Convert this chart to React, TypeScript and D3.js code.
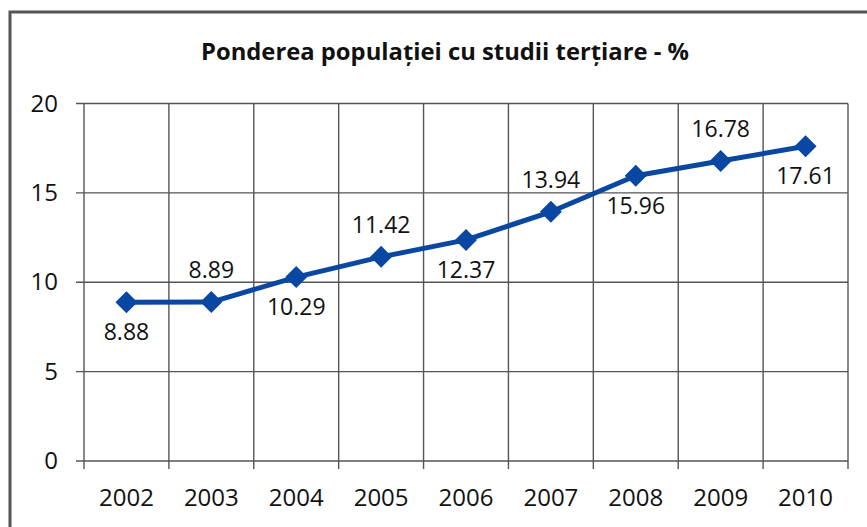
import React from "react";
import * as d3 from "d3";

const years = ["2002", "2003", "2004", "2005", "2006", "2007", "2008", "2009", "2010"];
const values = [8.88, 8.89, 10.29, 11.42, 12.37, 13.94, 15.96, 16.78, 17.61];
const labelAbove = [false, true, false, true, false, true, false, true, false];
const yTicks = [0, 5, 10, 15, 20];
const title = "Ponderea populației cu studii terțiare - %";

export default function App() {
  const W = 867, H = 527;
  const left = 84, right = 848, top = 103.5, bottom = 461;
  const x = d3.scaleBand().domain(years).range([left, right]);
  const y = d3.scaleLinear().domain([0, 20]).range([bottom, top]);
  const line = d3.line<number>().x((_, i) => x(years[i])! + x.bandwidth() / 2).y((d) => y(d));
  const font = "'Open Sans', 'Liberation Sans', sans-serif";
  const grid = "#555";
  const blue = "#0A47A3";
  const boundaries = years.map((yr) => x(yr)!).concat([right]);
  return (
    <svg width={W} height={H} style={{ position: "absolute", left: 0, top: 0, background: "#fff" }}>
      <rect x={0} y={0} width={W} height={H} fill="#fff" />
      <rect x={10} y={12} width={880} height={540} fill="none" stroke="#555" strokeWidth={3} />
      <text x={445} y={60} textAnchor="middle" fontFamily={font} fontWeight="bold" fontSize={23}
        textLength={488} lengthAdjust="spacingAndGlyphs" fill="#111">
        {title}
      </text>
      {yTicks.map((t) => (
        <g key={t}>
          <line x1={left - 8} x2={right} y1={y(t)} y2={y(t)} stroke={grid} strokeWidth={1.4} />
          <text x={58} y={y(t) + 8} textAnchor="end" fontFamily={font} fontSize={24} fill="#111">
            {t}
          </text>
        </g>
      ))}
      {boundaries.map((bx, i) => (
        <line key={i} x1={bx} x2={bx} y1={top} y2={bottom + 8} stroke={grid} strokeWidth={1.4} />
      ))}
      {years.map((yr) => (
        <text key={yr} x={x(yr)! + x.bandwidth() / 2} y={506} textAnchor="middle" fontFamily={font} fontSize={24} fill="#111">
          {yr}
        </text>
      ))}
      <path d={line(values)!} fill="none" stroke={blue} strokeWidth={5} strokeLinejoin="round" />
      {values.map((v, i) => {
        const cx = x(years[i])! + x.bandwidth() / 2;
        const cy = y(v);
        const s = 11;
        return (
          <g key={i}>
            <path d={`M${cx},${cy - s}L${cx + s},${cy}L${cx},${cy + s}L${cx - s},${cy}Z`} fill={blue} />
            <text x={cx} y={labelAbove[i] ? cy - 24 : cy + 38} textAnchor="middle" fontFamily={font} fontSize={23} fill="#111">
              {v.toFixed(2)}
            </text>
          </g>
        );
      })}
    </svg>
  );
}
